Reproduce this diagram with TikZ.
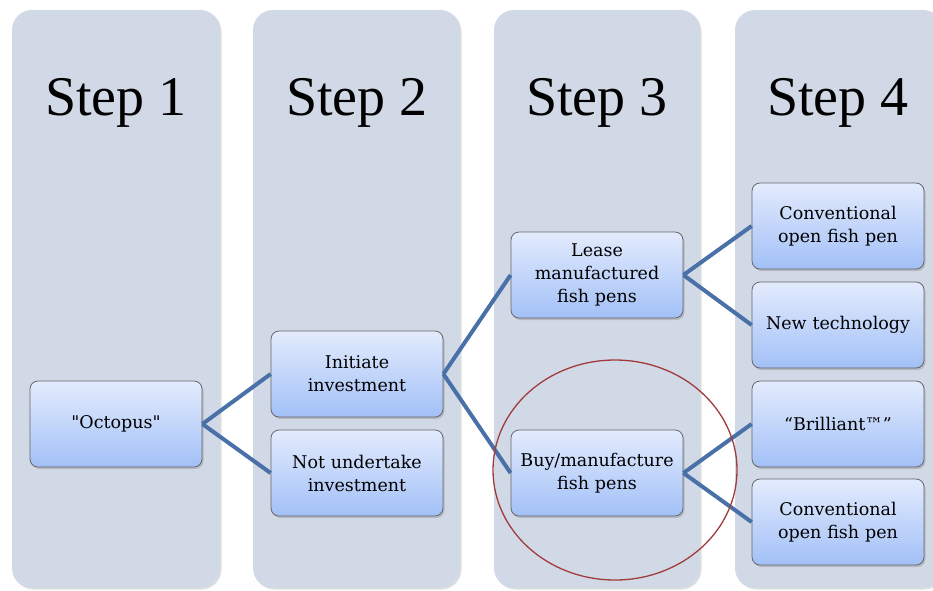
\documentclass[tikz,border=0pt]{standalone}
\usepackage{fontspec}
\setmainfont{DejaVu Serif}
\newfontfamily\stepfont{Liberation Serif}
\usetikzlibrary{shadows}
\definecolor{colfill}{HTML}{D1D9E6}
\definecolor{boxtop}{HTML}{E3EBFD}
\definecolor{boxbot}{HTML}{A2C0F7}
\definecolor{linkblue}{HTML}{4A70A8}
\definecolor{ringred}{HTML}{A23B3B}
\begin{document}
\begin{tikzpicture}[x=1pt,y=-1pt,
    column/.style={fill=colfill,rounded corners=20pt,
      drop shadow={shadow xshift=1.5pt,shadow yshift=-1.5pt,opacity=0.25}},
    steplabel/.style={anchor=base,font=\stepfont\fontsize{56}{60}\selectfont},
    choice/.style={draw=black!60,line width=0.8pt,rounded corners=8pt,
      top color=boxtop,bottom color=boxbot,minimum width=172pt,minimum height=86pt,
      text width=172pt,align=center,inner sep=0pt,
      font=\fontsize{17.5}{23}\selectfont,
      drop shadow={shadow xshift=1.5pt,shadow yshift=-2pt,opacity=0.35}},
    link/.style={draw=linkblue,line width=4pt}]
    \useasboundingbox (0,0) rectangle (933,590);
    %% Columns
    \path[column] (12,10) rectangle (220,588);
    \path[column] (253,10) rectangle (460,588);
    \path[column] (494,10) rectangle (700,588);
    \path[column] (735,10) rectangle (943,588);
    %% Step titles
    \node[steplabel] (s1) at (116,115) {Step 1};
    \node[steplabel] (s2) at (357,115) {Step 2};
    \node[steplabel] (s3) at (597,115) {Step 3};
    \node[steplabel] (s4) at (838,115) {Step 4};
    %% Decision boxes
    \node[choice] (octopus) at (116,424) {\textquotedbl Octopus\textquotedbl};
    \node[choice] (initiate) at (357,374) {Initiate\\investment};
    \node[choice] (notundertake) at (357,473) {Not undertake\\investment};
    \node[choice] (lease) at (597,275) {Lease\\manufactured\\fish pens};
    \node[choice] (buy) at (597,473) {Buy/manufacture\\fish pens};
    \node[choice] (convA) at (838,226) {Conventional\\open fish pen};
    \node[choice] (newtech) at (838,325) {New technology};
    \node[choice] (brilliant) at (838,424) {“Brilliant™”};
    \node[choice] (convB) at (838,522) {Conventional\\open fish pen};
    %% Links
    \draw[link] (octopus.east) -- (initiate.west);
    \draw[link] (octopus.east) -- (notundertake.west);
    \draw[link] (initiate.east) -- (lease.west);
    \draw[link] (initiate.east) -- (buy.west);
    \draw[link] (lease.east) -- (convA.west);
    \draw[link] (lease.east) -- (newtech.west);
    \draw[link] (buy.east) -- (brilliant.west);
    \draw[link] (buy.east) -- (convB.west);
    %% Ring
    \draw[ringred,line width=1.3pt] (615,470) ellipse [x radius=122,y radius=110];
\end{tikzpicture}
\end{document}
